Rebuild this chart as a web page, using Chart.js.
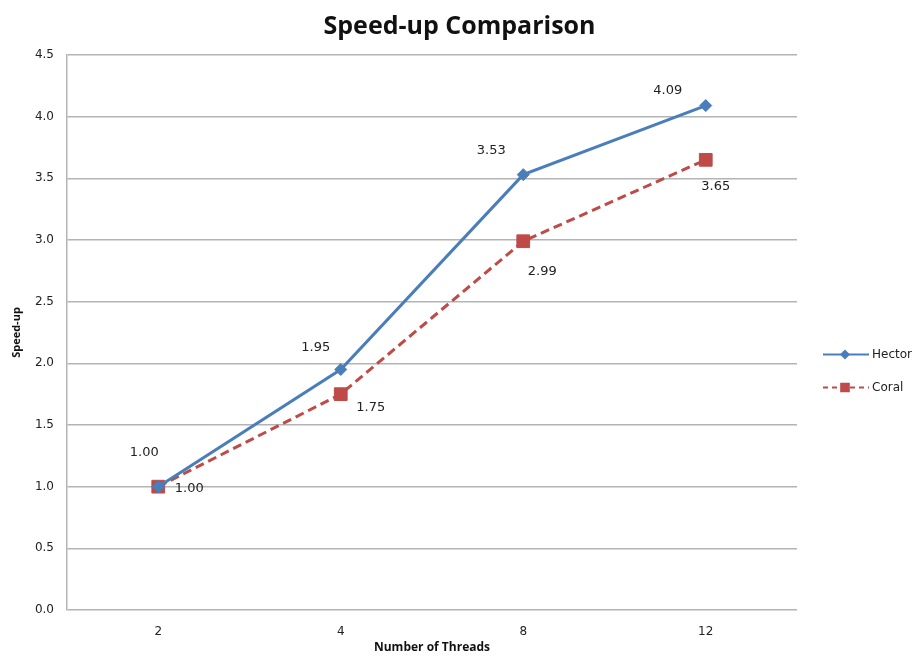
<!DOCTYPE html>
<html>
<head>
<meta charset="utf-8">
<title>Speed-up Comparison</title>
<script src="https://cdn.jsdelivr.net/npm/chart.js@4.4.1/dist/chart.umd.min.js"></script>
<style>
  html, body { margin: 0; padding: 0; background: #fff; }
  #wrap { width: 919px; height: 658px; position: relative; }
</style>
</head>
<body>
<div id="wrap"><canvas id="speedChart"></canvas></div>
<script>
/* ─── Datos ─── */
const THREADS = ['2', '4', '8', '12'];
const HECTOR  = [1.00, 1.95, 3.53, 4.09];
const CORAL   = [1.00, 1.75, 2.99, 3.65];
const Y_MIN = 0, Y_MAX = 4.5, Y_STEP = 0.5;

/* ─── Estilos ─── */
const BLUE = '#4a7ebb';
const RED  = '#be4b48';
const GRID = '#b4b4b4';
const LABEL_FONT  = '13px "DejaVu Sans", Verdana, sans-serif';
const LEGEND_FONT = '12px "DejaVu Sans", Verdana, sans-serif';
// desplazamiento de cada etiqueta respecto a su punto (px)
const HECTOR_LABEL_OFF = [[-14, -34], [-25, -22], [-32, -24], [-38, -15]];
const CORAL_LABEL_OFF  = [[31, 2], [30, 13], [19, 30], [10, 27]];

/* ─── Etiquetas de valores ─── */
const valueLabels = {
  id: 'valueLabels',
  afterDatasetsDraw(chart) {
    const ctx = chart.ctx;
    const offs = [HECTOR_LABEL_OFF, CORAL_LABEL_OFF];
    ctx.save();
    ctx.font = LABEL_FONT;
    ctx.fillStyle = '#222';
    ctx.textAlign = 'center';
    ctx.textBaseline = 'middle';
    chart.data.datasets.forEach((ds, di) => {
      chart.getDatasetMeta(di).data.forEach((pt, i) => {
        const [dx, dy] = offs[di][i];
        ctx.fillText(ds.data[i].toFixed(2), pt.x + dx, pt.y + dy);
      });
    });
    ctx.restore();
  },
};

/* ─── Leyenda a la derecha (línea + marcador) ─── */
const sideLegend = {
  id: 'sideLegend',
  afterDraw(chart) {
    const ctx = chart.ctx;
    const x0 = chart.chartArea.right + 26;
    const yMid = (chart.chartArea.top + chart.chartArea.bottom) / 2;
    const rows = [yMid + 22, yMid + 55];
    const dashes = [[], [5, 4]];
    ctx.save();
    chart.data.datasets.forEach((ds, i) => {
      const y = rows[i];
      ctx.strokeStyle = ds.borderColor;
      ctx.lineWidth = 2;
      ctx.setLineDash(dashes[i]);
      ctx.beginPath();
      ctx.moveTo(x0, y);
      ctx.lineTo(x0 + 46, y);
      ctx.stroke();
      ctx.setLineDash([]);
      Chart.helpers.drawPoint(ctx, {
        pointStyle: ds.pointStyle,
        radius: ds.pointRadius * 0.6,
        borderWidth: 1,
      }, x0 + 22, y);
      ctx.fillStyle = ds.backgroundColor;
      ctx.fill();
      ctx.font = LEGEND_FONT;
      ctx.fillStyle = '#222';
      ctx.textAlign = 'left';
      ctx.textBaseline = 'middle';
      ctx.fillText(ds.label, x0 + 49, y);
    });
    ctx.restore();
  },
};

/* ─── Gráfico ─── */
new Chart(document.getElementById('speedChart').getContext('2d'), {
  type: 'line',
  data: {
    labels: THREADS,
    datasets: [
      {
        label: 'Hector',
        data: HECTOR,
        borderColor: BLUE,
        backgroundColor: BLUE,
        borderWidth: 3,
        pointStyle: 'rectRot',
        pointRadius: 6,
        pointBorderWidth: 1,
        tension: 0,
      },
      {
        label: 'Coral',
        data: CORAL,
        borderColor: RED,
        backgroundColor: RED,
        borderWidth: 3,
        borderDash: [9, 5],
        pointStyle: 'rect',
        pointRadius: 9,
        pointBorderWidth: 1,
        tension: 0,
      },
    ],
  },
  options: {
    responsive: true,
    maintainAspectRatio: false,
    animation: false,
    layout: { padding: 0 },
    plugins: {
      legend: { display: false },
      tooltip: { enabled: false },
      title: {
        display: true,
        text: 'Speed-up Comparison',
        color: '#111',
        font: { family: '"Open Sans", sans-serif', size: 25, weight: 'bold' },
        padding: { top: 12, bottom: 13 },
      },
    },
    scales: {
      x: {
        offset: true,
        afterFit(scale) { scale.height = 48; },
        grid: { display: false, drawTicks: false },
        border: { display: false },
        ticks: { color: '#222', font: { family: '"DejaVu Sans", sans-serif', size: 12 }, padding: 15 },
        title: {
          display: true,
          text: 'Number of Threads',
          color: '#111',
          font: { family: '"Open Sans", sans-serif', size: 12, weight: 'bold' },
          padding: { top: 0, bottom: 3 },
        },
      },
      y: {
        min: Y_MIN,
        max: Y_MAX,
        afterFit(scale) { scale.width = 67; },
        grid: { color: GRID, lineWidth: 1.5, drawTicks: false },
        border: { display: true, color: GRID, width: 1.5 },
        ticks: {
          stepSize: Y_STEP,
          color: '#222',
          padding: 13,
          font: { family: '"DejaVu Sans", sans-serif', size: 12 },
          callback: v => Number(v).toFixed(1),
        },
        title: {
          display: true,
          text: 'Speed-up',
          color: '#111',
          font: { family: '"Open Sans", sans-serif', size: 11, weight: 'bold' },
          padding: { top: 10, bottom: 0 },
        },
      },
      // espacio reservado a la derecha para la leyenda
      legendSpace: {
        type: 'linear',
        position: 'right',
        afterFit(scale) { scale.width = 122; },
        grid: { display: false, drawTicks: false },
        border: { display: false },
        ticks: { display: false },
      },
    },
  },
  plugins: [valueLabels, sideLegend],
});
</script>
</body>
</html>
